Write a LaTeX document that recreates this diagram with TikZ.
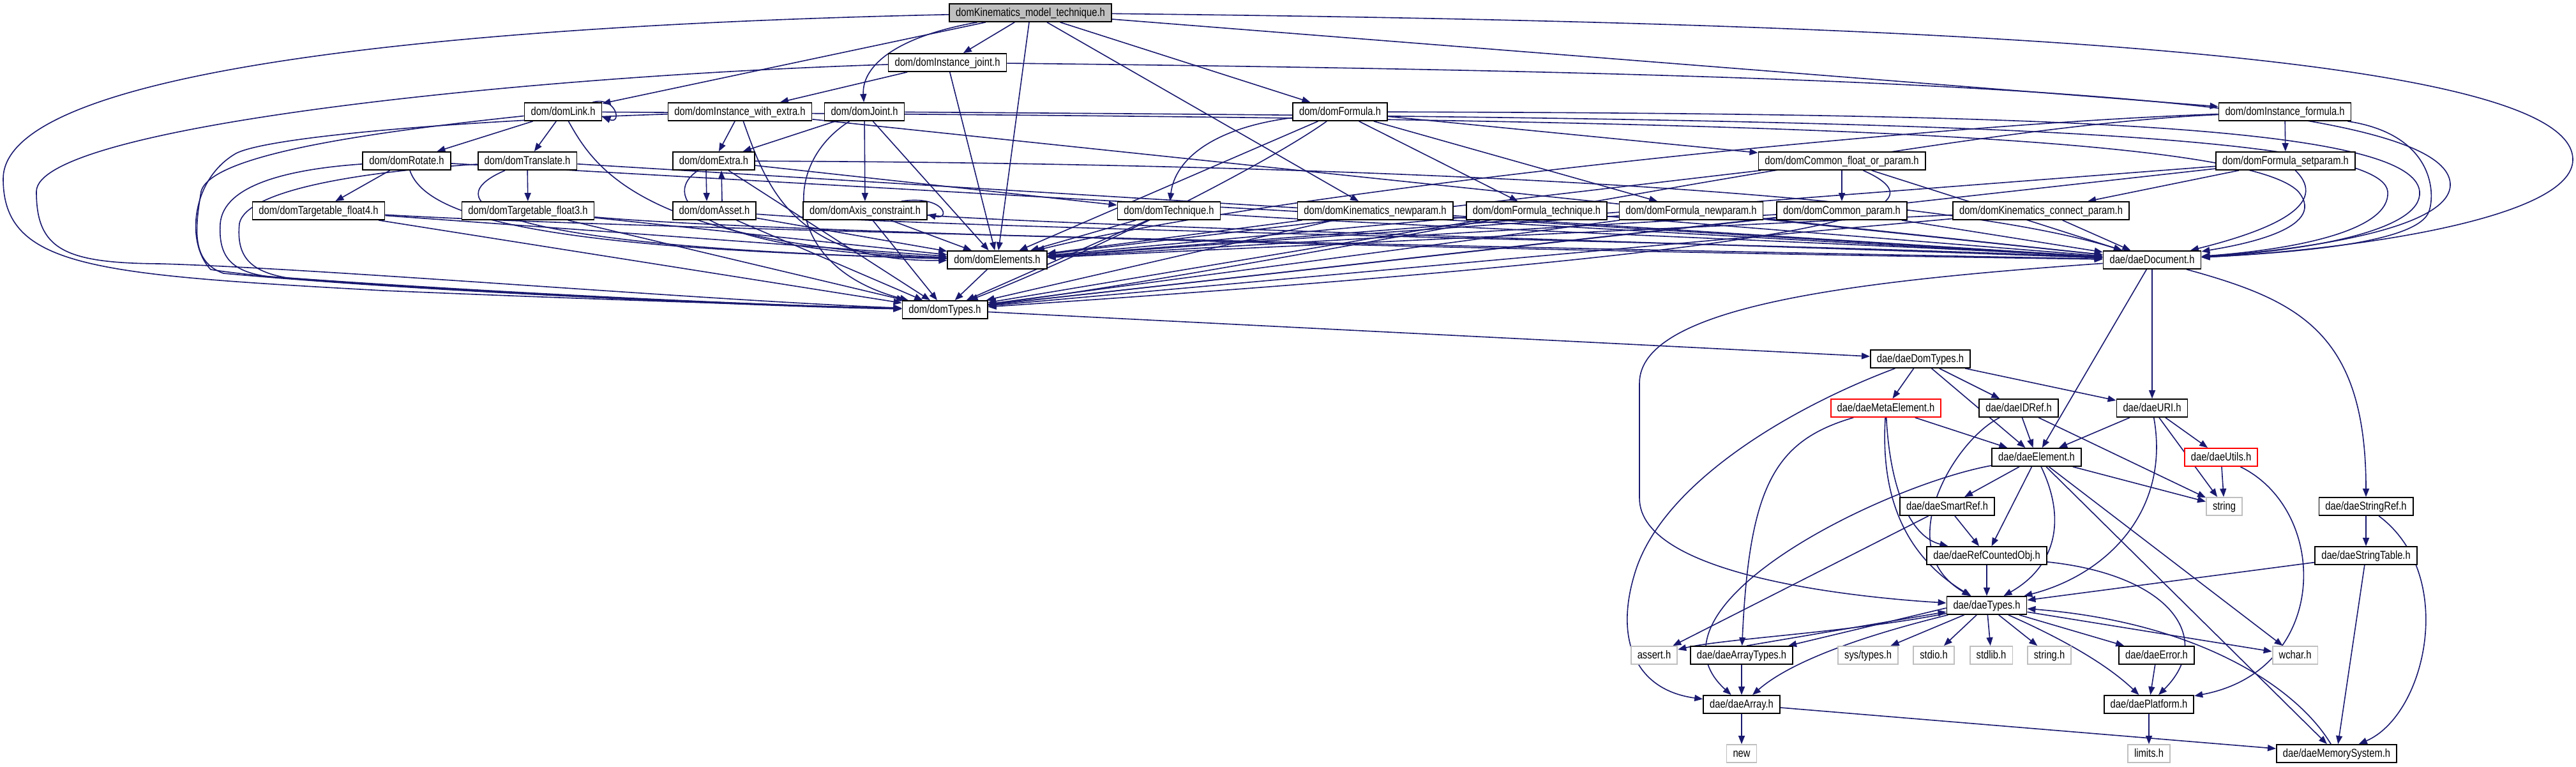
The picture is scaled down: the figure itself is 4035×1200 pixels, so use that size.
\documentclass[tikz,border=0pt]{standalone}
\usepackage{fontspec}
\setmainfont{Liberation Sans}[FakeStretch=0.82]
\usetikzlibrary{arrows.meta}

\pgfdeclarelayer{background}
\pgfsetlayers{background,main}

\tikzset{every picture/.style={line width=0.75pt}}
\tikzset{
  hdr/.style={draw, fill=white, line width=0.9pt, inner xsep=5pt, inner ysep=0pt, minimum height=14pt, text height=7pt, text depth=2pt, font=\fontsize{9}{10}\selectfont},
  syshdr/.style={hdr, draw={rgb, 255:red, 191; green, 191; blue, 191 }},
  cuthdr/.style={hdr, draw=red},
  roothdr/.style={hdr, fill={rgb, 255:red, 191; green, 191; blue, 191 }},
  dep/.style={draw={rgb, 255:red, 25; green, 25; blue, 112 }, line width=0.8pt, -{Triangle[length=6.5pt,width=5pt]}},
}

\begin{document}
\begin{tikzpicture}[x=0.5pt,y=0.5pt,yscale=-1,xscale=1]
	\useasboundingbox (0,0) rectangle (4035,1200);

	% Text Node
	\node[roothdr] (top) at (1614,20) {domKinematics\_model\_technique.h};
	\node[hdr] (ijoint) at (1484,98) {dom/domInstance\_joint.h};
	% Text Node
	\node[hdr] (link) at (882,175) {dom/domLink.h};
	\node[hdr] (iwextra) at (1159,175) {dom/domInstance\_with\_extra.h};
	\node[hdr] (joint) at (1354,175) {dom/domJoint.h};
	\node[hdr] (formula) at (2099,175) {dom/domFormula.h};
	\node[hdr] (iformula) at (3579,175) {dom/domInstance\_formula.h};
	% Text Node
	\node[hdr] (rotate) at (637,252) {dom/domRotate.h};
	\node[hdr] (translate) at (826,252) {dom/domTranslate.h};
	\node[hdr] (extra) at (1118,252) {dom/domExtra.h};
	\node[hdr] (cfop) at (2885,252) {dom/domCommon\_float\_or\_param.h};
	\node[hdr] (fsetparam) at (3580,252) {dom/domFormula\_setparam.h};
	% Text Node
	\node[hdr] (tfour) at (499,330) {dom/domTargetable\_float4.h};
	\node[hdr] (tthree) at (827,330) {dom/domTargetable\_float3.h};
	\node[hdr] (asset) at (1119,330) {dom/domAsset.h};
	\node[hdr] (axis) at (1355,330) {dom/domAxis\_constraint.h};
	\node[hdr] (technique) at (1831,330) {dom/domTechnique.h};
	\node[hdr] (knewparam) at (2154,330) {dom/domKinematics\_newparam.h};
	\node[hdr] (ftechnique) at (2407,330) {dom/domFormula\_technique.h};
	\node[hdr] (fnewparam) at (2649,330) {dom/domFormula\_newparam.h};
	\node[hdr] (cparam) at (2885,330) {dom/domCommon\_param.h};
	\node[hdr] (kcparam) at (3197,330) {dom/domKinematics\_connect\_param.h};
	% Text Node
	\node[hdr] (elements) at (1562,407) {dom/domElements.h};
	\node[hdr] (document) at (3371,407) {dae/daeDocument.h};
	\node[hdr] (types) at (1480,485) {dom/domTypes.h};
	\node[hdr] (domtypes) at (3008,562) {dae/daeDomTypes.h};
	% Text Node
	\node[cuthdr] (meta) at (2954,639) {dae/daeMetaElement.h};
	\node[hdr] (idref) at (3162,639) {dae/daeIDRef.h};
	\node[hdr] (uri) at (3371,639) {dae/daeURI.h};
	\node[hdr] (element) at (3190,716) {dae/daeElement.h};
	\node[cuthdr] (utils) at (3479,716) {dae/daeUtils.h};
	\node[hdr] (smartref) at (3050,793) {dae/daeSmartRef.h};
	\node[syshdr] (stringstd) at (3484,793) {string};
	\node[hdr] (stringref) at (3706,793) {dae/daeStringRef.h};
	\node[hdr] (refcounted) at (3112,870) {dae/daeRefCountedObj.h};
	\node[hdr] (stringtable) at (3706,870) {dae/daeStringTable.h};
	\node[hdr] (daetypes) at (3112,948) {dae/daeTypes.h};
	% Text Node
	\node[syshdr] (assert) at (2591,1026) {assert.h};
	\node[hdr] (arraytypes) at (2728,1026) {dae/daeArrayTypes.h};
	\node[syshdr] (systypes) at (2926,1026) {sys/types.h};
	\node[syshdr] (stdio) at (3029,1026) {stdio.h};
	\node[syshdr] (stdlib) at (3119,1026) {stdlib.h};
	\node[syshdr] (stringh) at (3210,1026) {string.h};
	\node[hdr] (error) at (3378,1026) {dae/daeError.h};
	\node[syshdr] (wchar) at (3595,1026) {wchar.h};
	\node[hdr] (array) at (2728,1103) {dae/daeArray.h};
	\node[hdr] (platform) at (3366,1103) {dae/daePlatform.h};
	\node[syshdr] (newhdr) at (2728,1180) {new};
	\node[syshdr] (limits) at (3366,1180) {limits.h};
	\node[hdr] (memsys) at (3660,1180) {dae/daeMemorySystem.h};

	\begin{pgfonlayer}{background}
	% Lines from domKinematics_model_technique.h
	\draw[dep] (top) -- (link);
	\draw[dep] (top) .. controls (700,40) and (5,110) .. (5,280) .. controls (5,420) and (150,430) .. (600,455) .. controls (1000,472) and (1300,480) .. (types);
	\draw[dep] (top) -- (ijoint);
	\draw[dep] (top) .. controls (1390,60) and (1350,110) .. (joint);
	\draw[dep] (top) -- (elements);
	\draw[dep] (top) -- (knewparam);
	\draw[dep] (top) -- (formula);
	\draw[dep] (top) -- (iformula);
	\draw[dep] (top) .. controls (3000,35) and (4030,80) .. (4030,250) .. controls (4030,340) and (3700,390) .. (document);
	% domInstance_joint.h
	\draw[dep] (ijoint) -- (iwextra);
	\draw[dep] (ijoint) -- (elements);
	\draw[dep] (ijoint) .. controls (800,120) and (57,200) .. (57,300) .. controls (57,390) and (100,412) .. (250,413) .. controls (500,420) and (1100,470) .. (types);
	\draw[dep] (ijoint) .. controls (3000,115) and (3840,150) .. (3838,290) .. controls (3836,360) and (3600,392) .. (document);
	% domInstance_with_extra.h
	\draw[dep] (iwextra) -- (extra);
	\draw[dep] (iwextra) .. controls (1200,290) and (1240,410) .. (elements);
	\draw[dep] (iwextra) .. controls (700,190) and (420,215) .. (370,240) .. controls (300,280) and (290,380) .. (330,422) .. controls (500,450) and (1200,478) .. (types);
	\draw[dep] (iwextra) -- (document);
	% domJoint.h
	\draw[dep] (joint) -- (extra);
	\draw[dep] (joint) -- (axis);
	\draw[dep] (joint) -- (elements);
	\draw[dep] (joint) .. controls (1220,260) and (1230,420) .. (types);
	\draw[dep] (joint) .. controls (2800,185) and (3730,195) .. (3740,300) .. controls (3745,360) and (3600,390) .. (document);
	% domLink.h
	\draw[dep] ([shift={(-15,0)}]link.north east) .. controls (965,150) and (975,195) .. ([shift={(0,8)}]link.east);
	\draw[dep] (link) -- (rotate);
	\draw[dep] (link) -- (translate);
	\draw[dep] (link) .. controls (930,260) and (1000,380) .. (elements);
	\draw[dep] (link) .. controls (600,205) and (330,240) .. (315,300) .. controls (305,360) and (300,410) .. (350,428) .. controls (700,460) and (1200,478) .. (types);
	\draw[dep] (link) .. controls (2400,185) and (3500,195) .. (3600,300) .. controls (3650,360) and (3500,385) .. (document);
	% domRotate.h
	\draw[dep] (rotate) -- (tfour);
	\draw[dep] (rotate) .. controls (670,350) and (900,390) .. (elements);
	\draw[dep] (rotate) .. controls (450,265) and (350,290) .. (345,350) .. controls (342,400) and (360,425) .. (420,433) .. controls (800,460) and (1200,478) .. (types);
	\draw[dep] (rotate) -- (document);
	% domTranslate.h
	\draw[dep] (translate) -- (tthree);
	\draw[dep] (translate) .. controls (690,310) and (720,385) .. (elements);
	\draw[dep] (translate) .. controls (550,270) and (385,300) .. (375,350) .. controls (370,400) and (390,425) .. (450,435) .. controls (800,462) and (1200,480) .. (types);
	\draw[dep] (translate) -- (document);
	% domTargetable_float4.h, domTargetable_float3.h
	\draw[dep] (tfour) -- (elements);
	\draw[dep] (tfour) -- (types);
	\draw[dep] (tfour) .. controls (1000,360) and (2500,390) .. (document);
	\draw[dep] (tthree) -- (elements);
	\draw[dep] (tthree) -- (types);
	\draw[dep] (tthree) .. controls (1200,365) and (2500,395) .. (document);
	% domExtra.h, domAsset.h
	\draw[dep] ([shift={(-12,0)}]extra.south) -- ([shift={(-12,0)}]asset.north);
	\draw[dep] ([shift={(12,0)}]asset.north) -- ([shift={(12,0)}]extra.south);
	\draw[dep] (extra) -- (technique);
	\draw[dep] (extra) .. controls (1040,300) and (1060,390) .. (elements);
	\draw[dep] (extra) -- (types);
	\draw[dep] (extra) .. controls (2000,255) and (3000,290) .. (document);
	\draw[dep] (asset) -- (elements);
	\draw[dep] (asset) -- (types);
	\draw[dep] (asset) .. controls (1500,360) and (2800,380) .. (document);
	% domAxis_constraint.h
	\draw[dep] ([shift={(-41,0)}]axis.north east) .. controls (1480,305) and (1490,345) .. ([shift={(0,6)}]axis.east);
	\draw[dep] (axis) -- (elements);
	\draw[dep] (axis) -- (types);
	\draw[dep] (axis) .. controls (1700,355) and (2800,385) .. (document);
	% domTechnique.h
	\draw[dep] (technique) -- (elements);
	\draw[dep] (technique) -- (types);
	\draw[dep] (technique) .. controls (2200,355) and (3000,385) .. (document);
	% domFormula.h
	\draw[dep] (formula) -- (cfop);
	\draw[dep] (formula) -- (ftechnique);
	\draw[dep] (formula) -- (fnewparam);
	\draw[dep] (formula) .. controls (1900,200) and (1840,250) .. (technique);
	\draw[dep] (formula) -- (elements);
	\draw[dep] (formula) .. controls (1980,260) and (1700,400) .. (types);
	\draw[dep] (formula) .. controls (3200,178) and (3780,195) .. (3790,300) .. controls (3795,360) and (3620,392) .. (document);
	% domCommon_float_or_param.h
	\draw[dep] (cfop) -- (cparam);
	\draw[dep] (cfop) -- (elements);
	\draw[dep] (cfop) .. controls (3060,330) and (2900,390) .. (types);
	\draw[dep] (cfop) -- (document);
	% lower dom row
	\draw[dep] (knewparam) -- (elements);
	\draw[dep] (knewparam) -- (types);
	\draw[dep] (knewparam) -- (document);
	\draw[dep] (ftechnique) -- (elements);
	\draw[dep] (ftechnique) -- (types);
	\draw[dep] (ftechnique) -- (document);
	\draw[dep] (fnewparam) -- (elements);
	\draw[dep] (fnewparam) -- (types);
	\draw[dep] (fnewparam) -- (document);
	\draw[dep] (cparam) -- (elements);
	\draw[dep] (cparam) -- (types);
	\draw[dep] (cparam) -- (document);
	\draw[dep] (kcparam) -- (elements);
	\draw[dep] (kcparam) -- (types);
	\draw[dep] (kcparam) -- (document);
	% domInstance_formula.h, domFormula_setparam.h
	\draw[dep] (iformula) -- (fsetparam);
	\draw[dep] (iformula) .. controls (3000,195) and (2000,300) .. (elements);
	\draw[dep] (iformula) .. controls (3000,200) and (2000,420) .. (types);
	\draw[dep] (iformula) .. controls (3810,210) and (3815,300) .. (3805,330) .. controls (3790,380) and (3600,395) .. (document);
	\draw[dep] (fsetparam) -- (kcparam);
	\draw[dep] (fsetparam) -- (elements);
	\draw[dep] (fsetparam) -- (types);
	\draw[dep] (fsetparam) .. controls (3650,320) and (3560,360) .. (document);
	% domElements.h, domTypes.h
	\draw[dep] (elements) -- (types);
	\draw[dep] (types) -- (domtypes);
	% daeDocument.h
	\draw[dep] (document) .. controls (2900,440) and (2568,480) .. (2568,600) -- (2568,780) .. controls (2568,900) and (2900,935) .. (daetypes);
	\draw[dep] (document) -- (element);
	\draw[dep] (document) -- (uri);
	\draw[dep] (document) .. controls (3600,470) and (3706,520) .. (stringref);
	% daeDomTypes.h
	\draw[dep] (domtypes) -- (meta);
	\draw[dep] (domtypes) -- (idref);
	\draw[dep] (domtypes) -- (uri);
	\draw[dep] (domtypes) -- (element);
	\draw[dep] (domtypes) .. controls (2800,640) and (2600,760) .. (2560,900) .. controls (2530,1000) and (2560,1080) .. (array);
	% daeMetaElement.h
	\draw[dep] (meta) .. controls (2780,690) and (2740,760) .. (arraytypes);
	\draw[dep] (meta) .. controls (2944,800) and (3000,880) .. (daetypes);
	\draw[dep] (meta) -- (element);
	\draw[dep] (meta) .. controls (2960,760) and (2990,840) .. (refcounted);
	% daeIDRef.h, daeURI.h, daeUtils.h
	\draw[dep] (idref) -- (element);
	\draw[dep] (idref) -- (stringstd);
	\draw[dep] (idref) .. controls (3060,690) and (2960,860) .. (daetypes);
	\draw[dep] (uri) -- (element);
	\draw[dep] (uri) -- (utils);
	\draw[dep] (uri) -- (stringstd);
	\draw[dep] (uri) .. controls (3400,800) and (3300,900) .. (daetypes);
	\draw[dep] (utils) -- (stringstd);
	\draw[dep] (utils) .. controls (3650,800) and (3650,1050) .. (platform);
	% daeElement.h
	\draw[dep] (element) .. controls (3240,820) and (3215,890) .. (daetypes);
	\draw[dep] (element) -- (smartref);
	\draw[dep] (element) -- (refcounted);
	\draw[dep] (element) -- (memsys);
	\draw[dep] (element) .. controls (2950,760) and (2560,950) .. (array);
	\draw[dep] (element) -- (wchar);
	\draw[dep] (element) -- (stringstd);
	% daeSmartRef.h, daeRefCountedObj.h
	\draw[dep] (smartref) -- (refcounted);
	\draw[dep] (smartref) -- (assert);
	\draw[dep] (refcounted) -- (daetypes);
	\draw[dep] (refcounted) .. controls (3400,900) and (3470,1000) .. (platform);
	% daeTypes.h
	\draw[dep] (daetypes) .. controls (2900,990) and (2700,1000) .. (assert);
	\draw[dep] ([shift={(0,4)}]daetypes.west) -- ([shift={(-8,0)}]arraytypes.north east);
	\draw[dep] ([shift={(8,0)}]arraytypes.north) -- ([shift={(0,10)}]daetypes.west);
	\draw[dep] (daetypes) -- (systypes);
	\draw[dep] (daetypes) -- (stdio);
	\draw[dep] (daetypes) -- (stdlib);
	\draw[dep] (daetypes) -- (stringh);
	\draw[dep] (daetypes) -- (error);
	\draw[dep] (daetypes) .. controls (3230,1000) and (3300,1040) .. (platform);
	\draw[dep] (daetypes) -- (wchar);
	\draw[dep] (daetypes) .. controls (2900,1000) and (2800,1040) .. (array);
	% daeArrayTypes.h, daeArray.h, daeError.h, daePlatform.h
	\draw[dep] (arraytypes) -- (array);
	\draw[dep] (array) -- (newhdr);
	\draw[dep] (array) -- (memsys);
	\draw[dep] (error) -- (platform);
	\draw[dep] (platform) -- (limits);
	% daeMemorySystem.h, daeStringRef.h, daeStringTable.h
	\draw[dep] (memsys) .. controls (3600,1080) and (3450,975) .. (daetypes);
	\draw[dep] (stringref) -- (stringtable);
	\draw[dep] (stringref) .. controls (3850,900) and (3800,1120) .. (memsys);
	\draw[dep] (stringtable) -- (daetypes);
	\draw[dep] (stringtable) -- (memsys);
	\end{pgfonlayer}

\end{tikzpicture}
\end{document}
